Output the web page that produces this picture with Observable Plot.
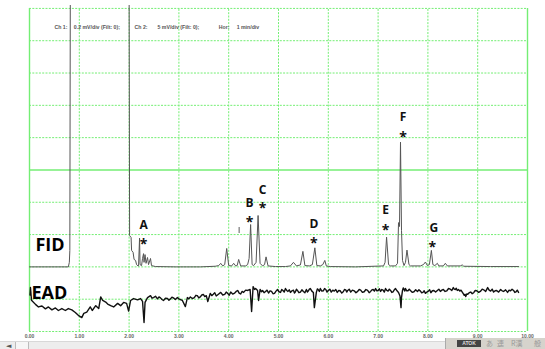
<!DOCTYPE html>
<html><head><meta charset="utf-8">
<script src="https://cdn.jsdelivr.net/npm/d3@7"></script>
<script src="https://cdn.jsdelivr.net/npm/@observablehq/plot@0.6"></script>
<style>
body{margin:0;background:#fff;}
#wrap{position:relative;width:545px;height:349px;overflow:hidden;}
#scroll{position:absolute;left:0;top:341px;width:545px;height:8px;background:#ededed;border-top:1px solid #d8d8d8;font:7px "DejaVu Sans",sans-serif;color:#555;}
#scroll .arr{position:absolute;left:6px;top:0px;}
#scroll .thumb{position:absolute;left:15px;top:0;width:12px;height:8px;border-left:1px solid #bbb;border-right:1px solid #bbb;background:#f6f6f6;}
#ime{position:absolute;left:445px;top:338px;width:100px;height:11px;background:#d6d3cc;border-left:1px solid #aaa;font:7px "Noto Sans CJK JP",sans-serif;color:#999;}
#ime span{position:absolute;top:0px;}
#ime .atok{left:11px;top:2px;width:24px;height:7px;background:#444;color:#ddd;font:bold 5px "Liberation Sans",sans-serif;text-align:center;line-height:7px;}
</style></head><body><div id="wrap"></div>
<script>
// FID trace: time (min) and signal (grid divisions)
const fidTime = [0.00,0.78,0.80,0.81,0.82,2.00,2.01,2.04,2.05,2.08,2.10,2.13,2.15,2.18,2.19,2.21,2.22,2.25,2.27,2.29,2.30,2.32,2.34,2.37,2.39,2.43,2.45,2.53,2.93,3.43,3.73,3.80,3.84,3.88,3.92,3.96,4.00,4.06,4.10,4.14,4.17,4.20,4.24,4.34,4.38,4.41,4.44,4.47,4.50,4.55,4.59,4.63,4.68,4.72,4.75,4.79,4.94,5.14,5.24,5.30,5.36,5.44,5.49,5.53,5.62,5.68,5.73,5.77,5.84,5.89,5.93,5.96,6.04,6.55,7.11,7.14,7.17,7.21,7.25,7.35,7.39,7.41,7.43,7.45,7.47,7.49,7.52,7.55,7.58,7.62,7.65,7.85,7.91,7.95,7.99,8.03,8.07,8.10,8.14,8.19,8.22,8.31,8.35,8.39,8.65,8.69,8.72,9.26,9.82];
const fidSignal = [2.00,2.00,2.14,2.51,11,11,2.97,2.91,2.51,2.45,2.23,2.20,2.07,2.03,2.03,2.89,2.07,2.04,2.26,2.41,2.14,2.38,2.11,2.29,2.07,2.26,2.04,2.01,2.00,2.00,2.02,2.04,2.11,2.03,2.07,2.57,2.04,2.03,2.11,2.03,2.04,2.23,2.03,2.03,2.07,2.26,3.31,2.07,2.04,2.14,3.59,2.11,2.03,2.07,2.31,2.03,2.01,2.01,2.03,2.14,2.03,2.06,2.48,2.04,2.03,2.07,2.59,2.04,2.03,2.07,2.20,2.03,2.01,2.00,2.03,2.14,2.92,2.07,2.03,2.03,2.11,3.37,3.25,5.86,3.13,2.20,2.04,2.14,2.52,2.07,2.03,2.03,2.07,2.15,2.04,2.07,2.51,2.07,2.04,2.11,2.03,2.03,2.11,2.03,2.03,2.06,2.02,2.01,2.01];
// EAD trace: time (min) and signal (grid divisions)
const eadTime = [0.01,0.02,0.04,0.12,0.18,0.25,0.32,0.38,0.45,0.52,0.58,0.65,0.72,0.78,0.85,0.92,0.98,1.05,1.09,1.15,1.22,1.26,1.33,1.39,1.43,1.47,1.53,1.57,1.63,1.69,1.77,1.83,1.89,1.95,1.99,2.03,2.09,2.17,2.23,2.27,2.30,2.32,2.37,
2.43,2.46,2.49,2.53,2.57,2.60,2.63,2.66,2.69,2.73,2.77,2.80,2.83,2.86,2.89,2.93,2.97,3.00,3.03,3.07,3.13,3.17,3.20,3.23,3.27,3.31,3.34,3.37,3.40,3.43,3.46,3.49,3.52,3.55,3.58,3.63,3.66,3.69,3.72,3.75,3.80,3.84,3.88,3.92,3.95,3.98,4.01,4.04,4.08,4.12,4.15,4.18,4.21,4.24,4.27,4.30,4.34,4.38,4.43,4.46,4.49,4.52,4.54,4.58,4.60,4.63,4.66,4.68,4.71,4.74,4.77,4.80,4.83,4.86,4.89,4.92,4.95,4.98,5.01,
5.04,5.065,5.09,5.115,5.14,5.165,5.19,5.215,5.24,5.27,5.30,5.32,5.34,5.36,5.38,5.41,5.44,5.47,5.50,5.53,5.56,5.58,5.60,5.62,5.64,5.67,5.70,5.72,5.76,5.78,5.80,5.82,5.84,5.87,5.90,5.925,5.95,5.975,
6.00,6.03,6.06,6.09,6.12,6.15,6.18,6.21,6.24,6.27,6.30,6.325,6.35,6.37,6.39,6.42,6.45,6.485,6.52,6.555,6.59,6.62,6.65,6.685,6.72,6.755,6.79,6.82,6.85,6.875,6.90,6.925,6.95,6.975,
7.00,7.025,7.05,7.075,7.10,7.125,7.15,7.175,7.20,7.225,7.25,7.275,7.30,7.325,7.35,7.38,7.41,7.44,7.46,7.47,7.49,7.505,7.52,7.535,7.55,7.575,7.60,7.625,7.65,7.685,7.72,7.755,7.79,7.82,7.85,7.875,7.90,7.925,7.95,7.98,
8.01,8.035,8.06,8.09,8.12,8.155,8.19,8.22,8.25,8.28,8.31,8.345,8.38,8.415,8.45,8.48,8.51,8.53,8.55,8.57,8.59,8.615,8.64,8.665,8.69,8.71,8.73,8.745,8.76,8.78,8.80,8.83,8.86,8.89,8.92,8.95,8.98,
9.02,9.06,9.09,9.12,9.16,9.20,9.23,9.26,9.29,9.32,9.35,9.38,9.42,9.46,9.49,9.52,9.56,9.60,9.63,9.66,9.69,9.72,9.745,9.77,9.795,9.82];
const eadSignal = [1.13,1.36,0.97,0.84,0.76,0.79,0.70,0.76,0.67,0.73,0.65,0.71,0.65,0.71,0.67,0.59,0.50,0.43,0.56,0.60,0.76,0.65,0.80,0.71,1.07,0.96,0.91,0.85,0.80,0.76,0.87,0.80,0.90,0.87,0.63,0.96,1.02,0.98,1.02,0.93,0.28,0.90,1.05,
1.11,1.03,1.05,1.09,1.01,1.07,1.04,0.99,0.96,1.03,1.02,0.97,1.01,1.06,1.04,0.99,1.05,1.01,0.99,0.96,0.77,1.05,1.01,1.07,1.02,1.05,1.12,1.11,1.04,1.07,1.13,1.15,1.08,1.11,0.93,1.18,1.11,1.15,1.20,1.10,1.16,1.21,1.13,1.15,1.22,1.18,1.12,1.22,1.16,1.19,1.24,1.27,1.19,1.16,1.24,1.21,1.28,1.27,1.30,0.62,1.39,1.30,1.33,1.27,0.96,1.30,1.23,1.27,1.20,1.24,1.28,1.19,1.26,1.24,1.17,1.18,1.25,1.30,1.23,
1.21,1.30,1.27,1.22,1.33,1.27,1.24,1.29,1.21,1.26,1.28,1.19,1.23,1.31,1.27,1.20,1.22,1.29,1.24,1.20,1.30,1.22,1.26,1.31,1.33,1.25,1.21,0.74,1.21,1.32,1.29,1.24,1.33,1.25,1.26,1.33,1.30,1.22,
1.27,1.31,1.22,1.28,1.25,1.30,1.21,1.27,1.26,1.19,1.23,1.30,1.29,1.22,1.27,1.31,1.22,1.28,1.26,1.20,1.24,1.30,1.28,1.21,1.23,1.30,1.27,1.20,1.24,1.29,1.30,1.25,1.33,1.26,
1.27,1.32,1.24,1.30,1.28,1.22,1.33,1.27,1.25,1.31,1.27,1.21,1.23,1.29,1.33,1.26,1.21,1.10,0.74,1.05,1.27,1.35,1.31,1.25,1.33,1.26,1.26,1.31,1.27,1.21,1.23,1.29,1.24,1.29,1.25,1.20,1.21,1.26,1.18,1.22,
1.25,1.29,1.20,1.26,1.27,1.22,1.27,1.31,1.24,1.28,1.30,1.24,1.26,1.33,1.31,1.27,1.36,1.31,1.30,1.34,1.27,1.30,1.25,1.28,1.22,1.17,1.12,1.15,1.08,1.16,1.15,1.20,1.22,1.17,1.20,1.27,1.26,
1.21,1.25,1.31,1.29,1.24,1.36,1.28,1.25,1.31,1.22,1.26,1.27,1.22,1.30,1.26,1.24,1.29,1.21,1.28,1.26,1.31,1.27,1.21,1.23,1.28,1.21];
// Peak annotations
const peakLabels = ["A","B","C","D","E","F","G"];
const peakLabelTime = [2.29,4.42,4.68,5.71,7.15,7.50,8.12];
const letterLevel = [3.28,3.97,4.39,3.31,3.75,6.63,3.19];
const starTime = [2.29,4.42,4.68,5.71,7.15,7.50,8.09];
const starLevel = [2.79,3.49,3.90,2.84,3.23,6.12,2.72];
// small marker near 4.2 min
const markTime = [4.21]; const markLow = [3.03]; const markHigh = [3.22];
// axis ticks
const tickMinutes = [0,1,2,3,4,5,6,7,8,9,10];
const tickLabels = ["0.00","1.00","2.00","3.00","4.00","5.00","6.00","7.00","8.00","9.00","10.00"];
const gridDotX = [1,2,3,4,5,6,7,8,9];
const gridDotY = [0,1,2,3,4,6,7,8,9,10];
const gridSolidX = [0,10];
const gridSolidY = [5];
// header text pieces
const headerText = ["Ch 1:","0.2 mV/div (Filt: 0);","Ch 2:","5 mV/div (Filt: 0);","Hor:","1 min/div"];
const headerTime = [0.50,0.89,2.11,2.57,3.80,4.16];
const headerLevel = 9.41;
// channel names
const channelNames = ["FID","EAD"];
const channelTime = [0.12,0.04];
const channelLevel = [2.66,1.18];

const fid = fidTime.map((t,i)=>({t, v: fidSignal[i]}));
const ead = eadTime.map((t,i)=>({t, v: eadSignal[i]}));
const peaks = peakLabels.map((l,i)=>({l, t: peakLabelTime[i], ly: letterLevel[i], st: starTime[i], sy: starLevel[i]}));
const marks = markTime.map((t,i)=>({t, a: markLow[i], b: markHigh[i]}));
const ticks = tickMinutes.map((t,i)=>({t, s: tickLabels[i]}));
const header = headerText.map((s,i)=>({s, t: headerTime[i]}));
const chans = channelNames.map((s,i)=>({s, t: channelTime[i], v: channelLevel[i]}));

const green = "#74ee74";
const chart = Plot.plot({
  width: 545, height: 349,
  marginTop: 5, marginRight: 18, marginBottom: 18, marginLeft: 29,
  x: {domain: [0, 10], axis: null},
  y: {domain: [0, 10.09], axis: null},
  style: {background: "#fff", overflow: "visible"},
  marks: [
    Plot.ruleX(gridDotX, {x: d=>d, y1: 0, y2: 10, stroke: green, strokeWidth: 1, strokeDasharray: "2,1.3", strokeOpacity: 1}),
    Plot.ruleY(gridDotY, {y: d=>d, x1: 0, x2: 10, stroke: green, strokeWidth: 1, strokeDasharray: "2,1.3", strokeOpacity: 1}),
    Plot.ruleX(gridSolidX, {x: d=>d, y1: 0, y2: 10, stroke: green, strokeWidth: 1.4, strokeOpacity: 1}),
    Plot.ruleY(gridSolidY, {y: d=>d, x1: 0, x2: 10, stroke: green, strokeWidth: 1.4, strokeOpacity: 1}),
    Plot.text(ticks, {x: "t", y: 0, text: "s", dy: 5, fontSize: 5, fontWeight: "bold", fill: "#666", fontFamily: "Liberation Sans, Arial, sans-serif"}),
    Plot.text(header, {x: "t", y: headerLevel, text: "s", textAnchor: "start", fontSize: 5.2, fontWeight: "bold", fill: "#555", fontFamily: "Liberation Sans, Arial, sans-serif"}),
    Plot.line(ead, {x: "t", y: "v", stroke: "#111", strokeWidth: 1.4, clip: true}),
    Plot.line(fid, {x: "t", y: "v", stroke: "#555", strokeWidth: 1, clip: true}),
    Plot.ruleX(marks, {x: "t", y1: "a", y2: "b", stroke: "#777", strokeWidth: 1.2}),
    Plot.text(chans, {x: "t", y: "v", text: "s", textAnchor: "start", fontSize: 18, fontWeight: "bold", fill: "#000", fontFamily: "Open Sans, sans-serif"}),
    Plot.text(peaks, {x: "t", y: "ly", text: "l", fontSize: 12, fontWeight: "bold", fill: "#111", fontFamily: "Open Sans, sans-serif"}),
    Plot.text(peaks, {x: "st", y: "sy", text: () => "*", fontSize: 14, dy: 3.5, fontWeight: "bold", fill: "#111", fontFamily: "Open Sans, sans-serif"})
  ]
});
const wrap = document.getElementById("wrap");
wrap.appendChild(chart);
const sc = document.createElement("div"); sc.id = "scroll";
sc.innerHTML = '<span class="arr">◄</span><span class="thumb"></span>';
wrap.appendChild(sc);
const ime = document.createElement("div"); ime.id = "ime";
ime.innerHTML = '<span class="atok">ATOK</span><span style="left:40px">あ</span><span style="left:51px">連</span><span style="left:65px">R漢</span><span style="left:88px">般</span>';
wrap.appendChild(ime);
chart.style.position = "absolute"; chart.style.left = "0"; chart.style.top = "0";
</script></body></html>
